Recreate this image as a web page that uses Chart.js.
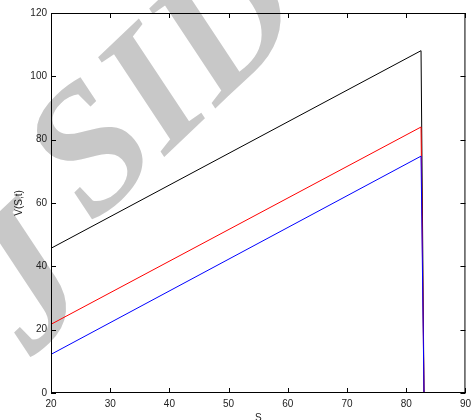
<!DOCTYPE html>
<html>
<head>
<meta charset="utf-8">
<script src="https://cdn.jsdelivr.net/npm/chart.js@4"></script>
<style>
    html, body { margin: 0; padding: 0; background: #fff; }
    #wrap { width: 476px; height: 420px; }
</style>
</head>
<body>
<div id="wrap"><canvas id="chart" width="476" height="420"></canvas></div>
<script>
// values
const sValues = [20, 82.5, 83];
const vBlack = [45.7, 108.1, 0];
const vRed = [21.7, 84.0, 0];
const vBlue = [12.2, 74.8, 0];
const xTicks = [20, 30, 40, 50, 60, 70, 80, 90];
const yTicks = [0, 20, 40, 60, 80, 100, 120];

function toPoints(ys) {
    return sValues.map((s, i) => ({x: s, y: ys[i]}));
}

// gray watermark under everything else
const watermark = {
    id: 'watermark',
    beforeDraw(chart) {
        const ctx = chart.ctx;
        ctx.save();
        ctx.translate(-5, 312);
        ctx.rotate(-43.5 * Math.PI / 180);
        ctx.font = 'italic bold 180px "Liberation Serif"';
        ctx.fillStyle = '#c8c8c8';
        ctx.textBaseline = 'alphabetic';
        const gap = ctx.measureText('J ').width;
        ctx.fillText('SID', gap - 4, 4);
        // the J sits lower in the reference
        ctx.font = 'italic bold 195px "Liberation Serif"';
        ctx.fillText('J', -5, 58);
        ctx.restore();
    }
};

// box round the plot and ticks pointing inward, matlab style
const boxTicks = {
    id: 'boxTicks',
    afterDraw(chart) {
        const ctx = chart.ctx;
        const area = chart.chartArea;
        const xs = chart.scales.x;
        const ys = chart.scales.y;
        const len = 5;
        ctx.save();
        ctx.strokeStyle = '#000';
        ctx.lineWidth = 1;
        ctx.beginPath();
        xs.ticks.forEach(t => {
            const px = Math.round(xs.getPixelForValue(t.value)) + 0.5;
            ctx.moveTo(px, area.bottom);
            ctx.lineTo(px, area.bottom - len);
            ctx.moveTo(px, area.top);
            ctx.lineTo(px, area.top + len);
        });
        ys.ticks.forEach(t => {
            const py = Math.round(ys.getPixelForValue(t.value)) + 0.5;
            ctx.moveTo(area.left, py);
            ctx.lineTo(area.left + len, py);
            ctx.moveTo(area.right, py);
            ctx.lineTo(area.right - len, py);
        });
        ctx.stroke();
        ctx.strokeRect(area.left + 0.5, area.top + 0.5, area.right - area.left - 1, area.bottom - area.top - 1);
        ctx.restore();
    }
};

const ctx = document.getElementById('chart').getContext('2d');
const myChart = new Chart(ctx, {
    type: 'scatter',
    data: {
        datasets: [{
            label: 'black',
            data: toPoints(vBlack),
            showLine: true,
            borderColor: '#000000',
            borderWidth: 1,
            pointRadius: 0,
            order: 3
        },
        {
            label: 'red',
            data: toPoints(vRed),
            showLine: true,
            borderColor: '#ff0000',
            borderWidth: 1,
            pointRadius: 0,
            order: 2
        },
        {
            label: 'blue',
            data: toPoints(vBlue),
            showLine: true,
            borderColor: '#0000ff',
            borderWidth: 1,
            pointRadius: 0,
            order: 1
        }]
    },
    plugins: [watermark, boxTicks],
    options: {
        responsive: false,
        animation: false,
        devicePixelRatio: 1,
        layout: {
            padding: {left: 0, right: 7, top: 13, bottom: 0}
        },
        plugins: {
            legend: { display: false },
            tooltip: { enabled: false }
        },
        scales: {
            x: {
                type: 'linear',
                min: 20,
                max: 90,
                afterBuildTicks: scale => { scale.ticks = xTicks.map(v => ({value: v})); },
                afterFit: scale => { scale.height = 27; },
                grid: { display: false, drawTicks: false },
                border: { display: false },
                ticks: {
                    padding: 5,
                    maxRotation: 0,
                    color: '#222',
                    font: { family: '"Liberation Sans", Arial, sans-serif', size: 10 }
                },
                title: {
                    display: true,
                    text: 'S',
                    color: '#222',
                    padding: {top: 0, bottom: -4},
                    font: { family: '"Liberation Sans", Arial, sans-serif', size: 10 }
                }
            },
            y: {
                min: 0,
                max: 120,
                afterBuildTicks: scale => { scale.ticks = yTicks.map(v => ({value: v})); },
                afterFit: scale => { scale.width = 51; },
                grid: { display: false, drawTicks: false },
                border: { display: false },
                ticks: {
                    padding: 4,
                    color: '#222',
                    font: { family: '"Liberation Sans", Arial, sans-serif', size: 10 }
                },
                title: {
                    display: true,
                    text: 'V(S,t)',
                    color: '#222',
                    padding: {top: 13, bottom: 0},
                    font: { family: '"Liberation Sans", Arial, sans-serif', size: 10 }
                }
            }
        }
    }
});
</script>
</body>
</html>
